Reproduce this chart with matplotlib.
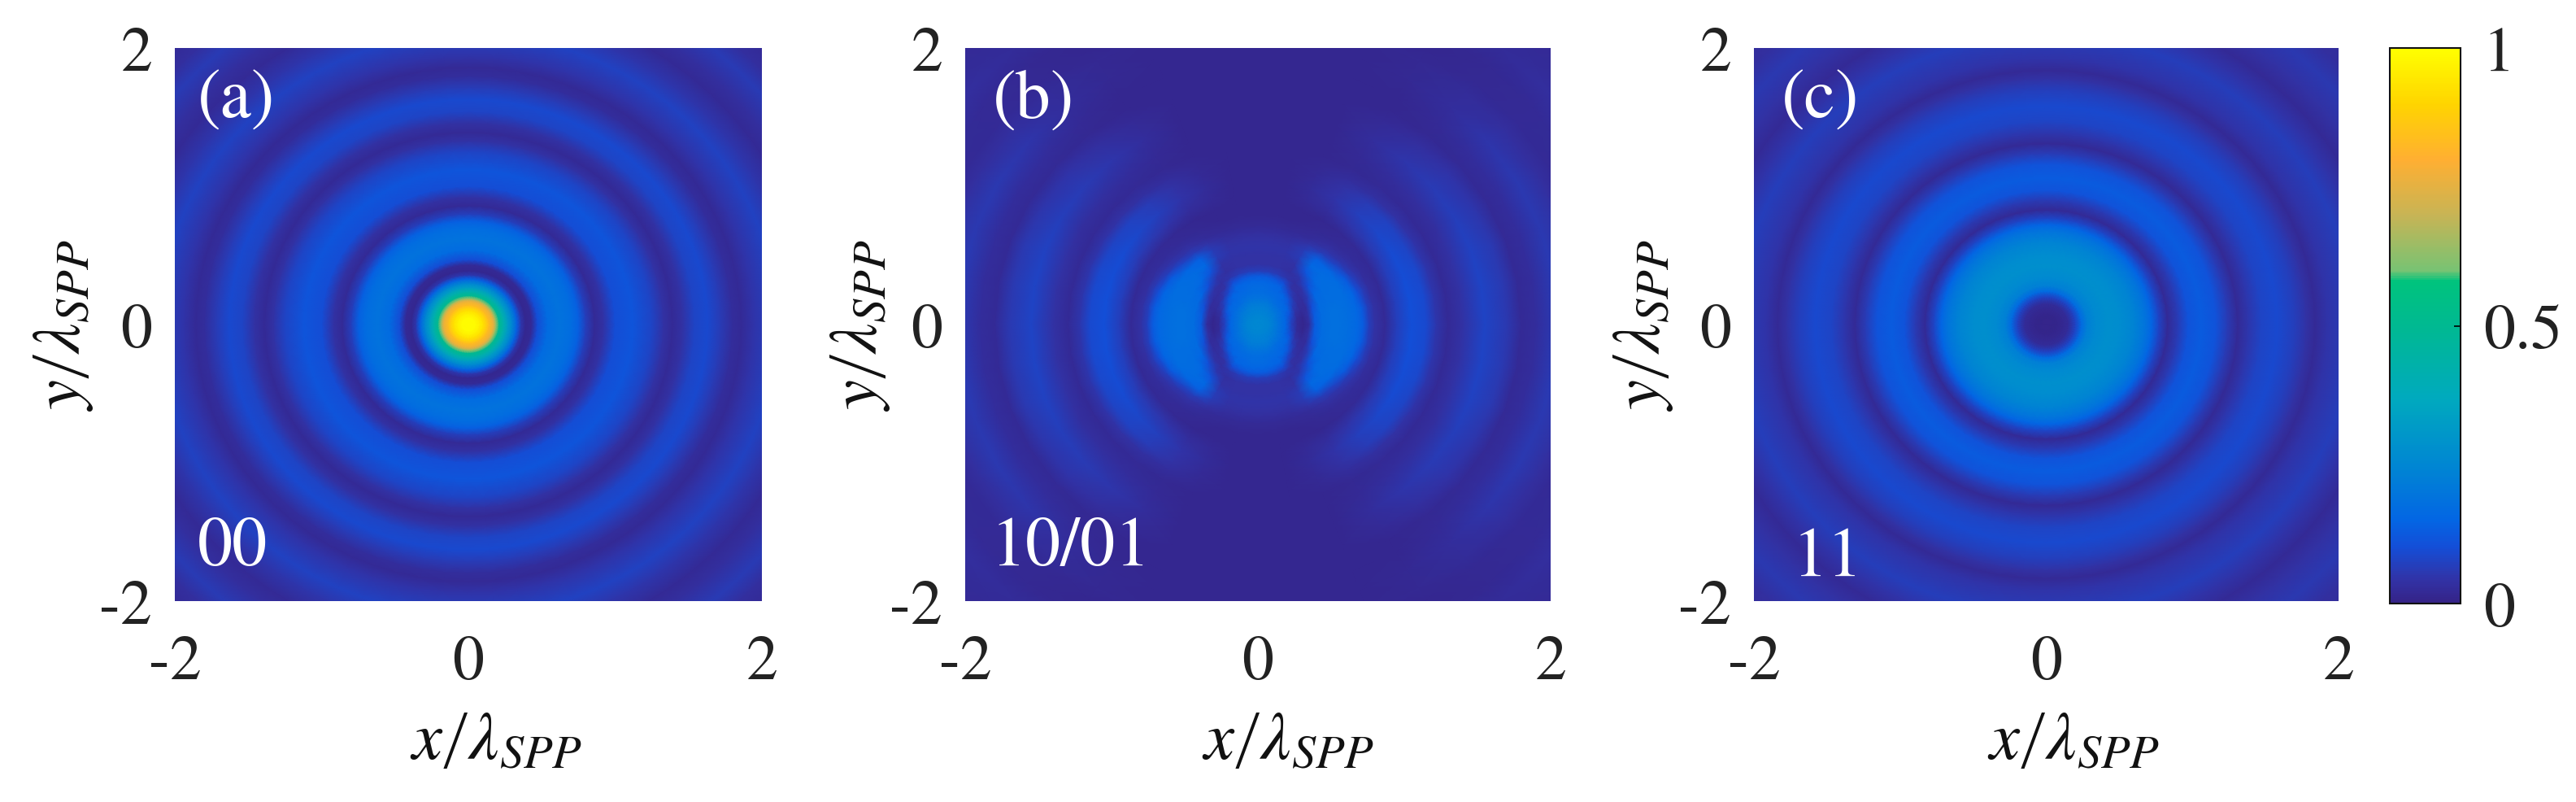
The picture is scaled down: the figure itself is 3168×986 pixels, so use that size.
import numpy as np
import matplotlib
matplotlib.use("Agg")
import matplotlib.pyplot as plt
from matplotlib.colors import LinearSegmentedColormap, Normalize
from matplotlib.cm import ScalarMappable

plt.rcParams['font.family'] = ['STIXGeneral', 'Liberation Serif', 'DejaVu Serif']
plt.rcParams['mathtext.fontset'] = 'stix'

# ---------- data ----------
tick_values = [-2, 0, 2]
tick_labels = ['-2', '0', '2']
cbar_ticks = [0, 0.5, 1]
cbar_labels = ['0', '0.5', '1']
panel_tags = ['(a)', '(b)', '(c)']
panel_states = ['00', '10/01', '11']

# panel (a): radial intensity profile
a_r = [0, .05, .10, .14, .17, .19, .21, .24, .27, .30, .33, .36, .39, .43, .47, .54, .62, .70, .75, .80, .86,
       .92, 1.0, 1.12, 1.25, 1.33, 1.39, 1.46, 1.54, 1.63, 1.72, 1.80, 1.86, 1.94, 2.10, 2.22, 2.35,
       2.45, 2.60, 2.72, 2.85, 3.0]
a_i = [1.0, .99, .93, .83, .76, .62, .50, .42, .32, .24, .14, .05, .015, .02, .10, .17, .19, .175, .14, .07, .02,
       .04, .10, .115, .08, .04, .02, .04, .08, .09, .06, .03, .02, .045, .075, .05, .02,
       .035, .06, .035, .02, .03]

# panel (c): radial intensity profile
c_r = [0, .08, .15, .20, .24, .28, .34, .42, .50, .60, .68, .72, .77, .83, .90, .97, 1.06, 1.16, 1.24, 1.31,
       1.38, 1.47, 1.58, 1.70, 1.78, 1.84, 1.92, 2.10, 2.22, 2.33, 2.45, 2.60, 2.75, 3.0]
c_i = [.005, .01, .025, .08, .17, .23, .26, .28, .27, .24, .19, .15, .08, .02, .06, .11, .13, .11, .06, .02,
       .05, .08, .09, .07, .04, .02, .045, .07, .045, .02, .04, .055, .035, .025]

# panel (b): intensity on a polar table, one row per direction in the first quadrant
b_angle = [0, 10, 20, 30, 40, 50, 60, 70, 80, 90]
b_r = [0, .08, .14, .19, .23, .27, .31, .35, .39, .44, .50, .56, .62, .68, .72, .76, .80, .87,
       .95, 1.05, 1.15, 1.22, 1.30, 1.40, 1.55, 1.70, 1.80, 1.90, 2.05, 2.20, 2.30, 2.45, 2.60, 2.75, 3.0]
b_i_00 = [.26, .24, .19, .15, .07, .02, .01, .03, .13, .175, .18, .18, .175, .16, .13, .07, .04, .02,
          .07, .105, .09, .05, .02, .04, .08, .055, .02, .03, .06, .04, .02, .03, .045, .03, .02]
b_i_10 = [.26, .24, .19, .155, .08, .025, .015, .04, .13, .17, .18, .18, .175, .16, .125, .07, .04, .02,
          .07, .105, .09, .05, .02, .04, .08, .055, .02, .03, .06, .04, .02, .03, .045, .03, .02]
b_i_20 = [.26, .24, .195, .16, .11, .04, .025, .03, .10, .165, .175, .175, .175, .15, .10, .06, .035, .02,
          .068, .10, .088, .048, .02, .04, .078, .055, .02, .03, .058, .04, .02, .03, .045, .03, .02]
b_i_30 = [.26, .24, .20, .165, .145, .07, .035, .03, .06, .15, .17, .175, .17, .125, .07, .045, .03, .02,
          .06, .095, .08, .045, .02, .035, .07, .05, .02, .03, .055, .035, .02, .025, .04, .03, .02]
b_i_40 = [.26, .24, .205, .17, .155, .12, .05, .035, .04, .10, .16, .17, .155, .08, .05, .035, .025, .02,
          .055, .085, .075, .042, .02, .032, .062, .045, .02, .028, .048, .032, .02, .022, .035, .025, .02]
b_i_50 = [.26, .24, .21, .175, .16, .15, .09, .04, .035, .05, .11, .16, .14, .06, .04, .03, .02, .018,
          .045, .07, .062, .038, .02, .03, .05, .035, .018, .022, .03, .025, .018, .018, .025, .02, .018]
b_i_60 = [.26, .24, .215, .18, .165, .155, .145, .10, .05, .035, .04, .06, .06, .04, .025, .02, .016, .015,
          .03, .045, .04, .028, .018, .022, .03, .022, .015, .015, .018, .018, .015, .015, .02, .015, .015]
b_i_70 = [.26, .24, .22, .19, .17, .16, .15, .12, .06, .04, .04, .045, .04, .03, .022, .018, .015, .015,
          .02, .025, .022, .018, .015, .015, .015, .015, .015, .015, .015, .015, .015, .015, .015, .015, .015]
b_i_80 = [.26, .24, .22, .19, .175, .165, .155, .13, .065, .04, .04, .045, .04, .03, .02, .016, .015, .015,
          .015, .015, .015, .015, .015, .015, .015, .015, .015, .015, .015, .015, .015, .015, .015, .015, .015]
b_i_90 = [.26, .24, .22, .19, .175, .165, .155, .13, .065, .04, .04, .045, .04, .03, .02, .016, .015, .015,
          .015, .015, .015, .015, .015, .015, .015, .015, .015, .015, .015, .015, .015, .015, .015, .015, .015]

# ---------- colours ----------
cmap = LinearSegmentedColormap.from_list('bar', [
    (0.00, (53/255, 35/255, 135/255)),
    (0.04, (50/255, 50/255, 165/255)),
    (0.10, (20/255, 78/255, 215/255)),
    (0.15, (3/255, 102/255, 228/255)),
    (0.25, (0/255, 135/255, 210/255)),
    (0.37, (0/255, 170/255, 190/255)),
    (0.50, (0/255, 185/255, 145/255)),
    (0.58, (0/255, 195/255, 125/255)),
    (0.60, (120/255, 195/255, 115/255)),
    (0.70, (200/255, 180/255, 85/255)),
    (0.80, (255/255, 175/255, 50/255)),
    (0.90, (255/255, 212/255, 0/255)),
    (1.00, (255/255, 255/255, 0/255)),
])
norm = Normalize(0, 1)

W, H = 3168, 987
fig = plt.figure(figsize=(W/100, H/100), dpi=100)


def axes_px(l, t, r, b):
    return fig.add_axes([l/W, 1-b/H, (r-l)/W, (b-t)/H])


def polar_mesh(ax, radii, angles_deg, values):
    th = np.radians(np.asarray(angles_deg, float))
    rr = np.asarray(radii, float)
    X = np.outer(np.cos(th), rr)
    Y = np.outer(np.sin(th), rr)
    ax.pcolormesh(X, Y, np.asarray(values, float), shading='gouraud', cmap=cmap, norm=norm)


boxes = [(215, 60, 937, 740), (1187, 60, 1907, 740), (2157, 60, 2876, 740)]
xlab_x = [.547, .551, .547]
ylab_x = [-.188, -.178, -.188]
axs = [axes_px(*b) for b in boxes]

full = np.arange(0, 361, 5)
polar_mesh(axs[0], a_r, full, [a_i for _ in full])
polar_mesh(axs[2], c_r, full, [c_i for _ in full])

rows = [b_i_00, b_i_10, b_i_20, b_i_30, b_i_40, b_i_50, b_i_60, b_i_70, b_i_80, b_i_90]
b_rows = rows + rows[-2::-1] + rows[1:] + rows[-2::-1]
b_angles = b_angle + [180 - a for a in b_angle[-2::-1]] + [180 + a for a in b_angle[1:]] + [360 - a for a in b_angle[-2::-1]]
polar_mesh(axs[1], b_r, b_angles, b_rows)

for i, ax in enumerate(axs):
    ax.set_xlim(-2, 2)
    ax.set_ylim(-2, 2)
    for s in ax.spines.values():
        s.set_visible(False)
    ax.set_xticks(tick_values, tick_labels)
    ax.set_yticks(tick_values, tick_labels)
    ax.tick_params(axis='x', length=0, pad=30, labelsize=56, labelcolor='#222222')
    ax.tick_params(axis='y', length=0, pad=20, labelsize=56, labelcolor='#222222')
    ax.set_xlabel(r'$x\left/\lambda_{SPP}\right.$', fontsize=60, color='#111111')
    ax.xaxis.set_label_coords(xlab_x[i], -.31)
    ax.xaxis.label.set_va('bottom')
    ax.set_ylabel(r'$y\left/\lambda_{SPP}\right.$', fontsize=60, color='#111111')
    ax.yaxis.set_label_coords(ylab_x[i], .5)
    ax.yaxis.label.set_va('center')

tag_pos = [(243, 145), (1221, 145), (2191, 145)]
state_pos = [(243, 695), (1219, 695), (2205, 708)]
for (x, y), t in zip(tag_pos, panel_tags):
    fig.text(x/W, 1-y/H, t, color='white', fontsize=62, va='baseline', ha='left')
for (x, y), t in zip(state_pos, panel_states):
    fig.text(x/W, 1-y/H, t, color='white', fontsize=62, va='baseline', ha='left')

cax = axes_px(2939, 60, 3026, 743)
cb = fig.colorbar(ScalarMappable(norm=norm, cmap=cmap), cax=cax)
cb.set_ticks(cbar_ticks, labels=cbar_labels)
cb.outline.set_linewidth(1.5)
cb.outline.set_edgecolor('#111111')
cax.tick_params(axis='y', direction='in', length=6, width=1.2, pad=20, labelsize=56, labelcolor='#222222')

fig.savefig('out.png', dpi=100)
